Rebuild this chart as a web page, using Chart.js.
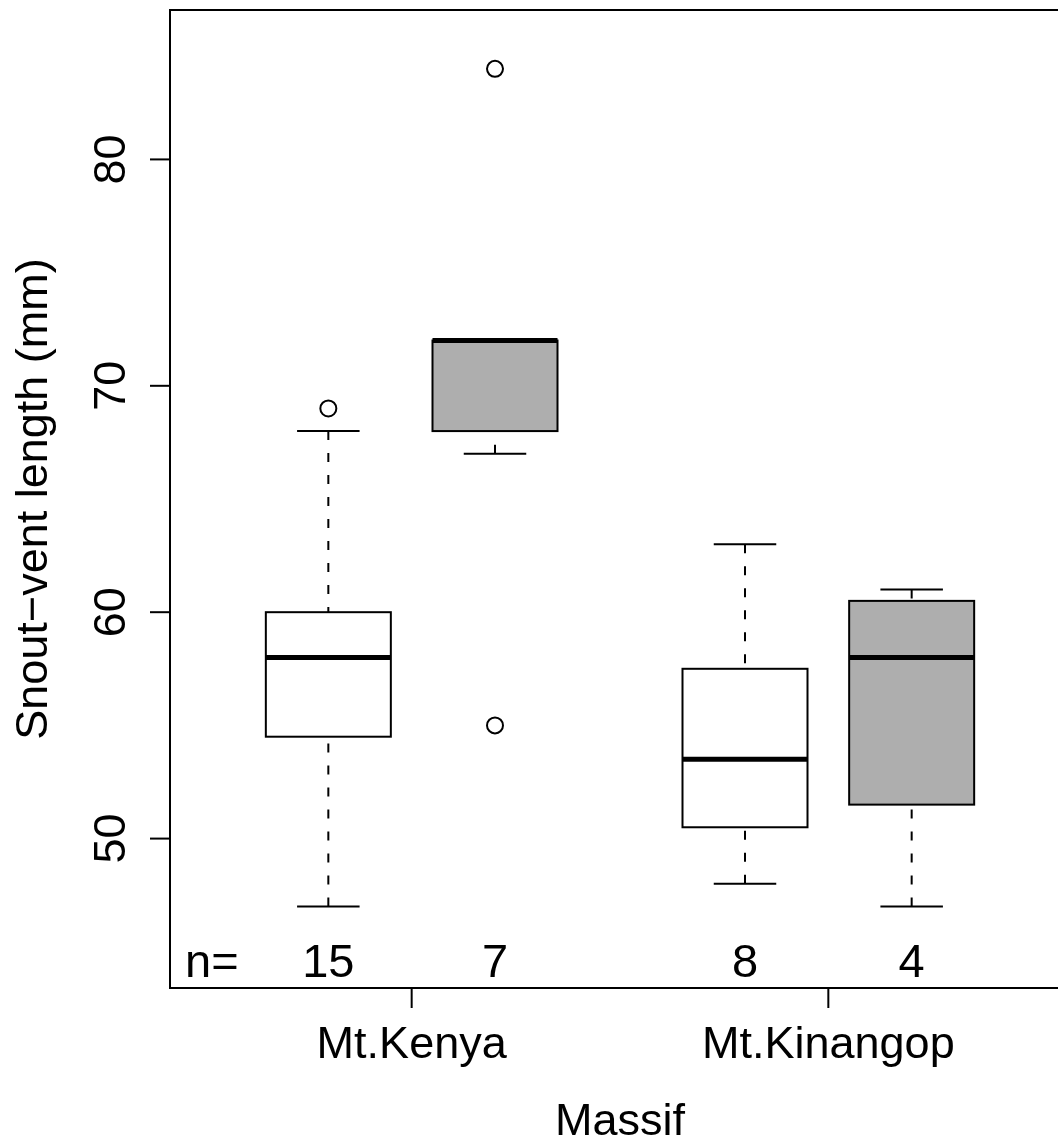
<!DOCTYPE html>
<html>
<head>
<meta charset="utf-8">
<script src="https://cdn.jsdelivr.net/npm/chart.js@4"></script>
<style>
html,body{margin:0;padding:0;background:#fff;overflow:hidden;width:1058px;height:1138px;}
canvas{display:block;}
</style>
</head>
<body>
<canvas id="c" width="1080" height="1138"></canvas>
<script>
// ---- data ----
const groupLabels = ["Mt.Kenya", "Mt.Kinangop"];
const groupTickPositions = [1.5, 4.0];
const boxPositions = [1, 2, 3.5, 4.5];
const lowerWhisker = [47, 67, 48, 47];
const q1Values = [54.5, 68, 50.5, 51.5];
const medianValues = [58, 72, 53.5, 58];
const q3Values = [60, 72, 57.5, 60.5];
const upperWhisker = [68, 72, 63, 61];
const outlierValues = [[69], [84, 55], [], []];
const sampleCounts = [15, 7, 8, 4];
const yTicks = [50, 60, 70, 80];
const yTitle = "Snout\u2212vent length (mm)";
const xTitle = "Massif";

const boxFills = ["#ffffff", "#aeaeae", "#ffffff", "#aeaeae"];
const FONT = '"Liberation Sans", Arial, sans-serif';

const outlierPoints = [];
outlierValues.forEach((arr, i) => arr.forEach(v => outlierPoints.push({x: boxPositions[i], y: v})));

const boxPlugin = {
  id: 'boxPlugin',
  beforeDatasetsDraw(chart) {
    const ctx = chart.ctx, xs = chart.scales.x, ys = chart.scales.y;
    const halfW = 0.375, capHalf = 0.1875;
    ctx.save();
    ctx.strokeStyle = '#000';
    boxPositions.forEach((p, i) => {
      const xc = xs.getPixelForValue(p);
      const xl = xs.getPixelForValue(p - halfW), xr = xs.getPixelForValue(p + halfW);
      const cl = xs.getPixelForValue(p - capHalf), cr = xs.getPixelForValue(p + capHalf);
      const yLo = ys.getPixelForValue(lowerWhisker[i]), yHi = ys.getPixelForValue(upperWhisker[i]);
      const yQ1 = ys.getPixelForValue(q1Values[i]), yQ3 = ys.getPixelForValue(q3Values[i]);
      const yMed = ys.getPixelForValue(medianValues[i]);
      // whiskers (dashed)
      ctx.lineWidth = 2;
      ctx.setLineDash([9, 13]);
      ctx.beginPath();
      ctx.moveTo(xc, yLo); ctx.lineTo(xc, yQ1);
      ctx.moveTo(xc, yHi); ctx.lineTo(xc, yQ3);
      ctx.stroke();
      ctx.setLineDash([]);
      // staples
      ctx.beginPath();
      ctx.moveTo(cl, yLo); ctx.lineTo(cr, yLo);
      ctx.moveTo(cl, yHi); ctx.lineTo(cr, yHi);
      ctx.stroke();
      // box
      ctx.fillStyle = boxFills[i];
      ctx.fillRect(xl, yQ3, xr - xl, yQ1 - yQ3);
      ctx.lineWidth = 2;
      ctx.strokeRect(xl, yQ3, xr - xl, yQ1 - yQ3);
      // median
      ctx.lineWidth = 5;
      ctx.beginPath();
      ctx.moveTo(xl, yMed); ctx.lineTo(xr, yMed);
      ctx.stroke();
    });
    ctx.restore();
  },
  afterDraw(chart) {
    const ctx = chart.ctx, xs = chart.scales.x, ys = chart.scales.y, a = chart.chartArea;
    ctx.save();
    ctx.strokeStyle = '#000';
    ctx.fillStyle = '#000';
    ctx.lineWidth = 2;
    ctx.strokeRect(a.left, a.top, a.right - a.left, a.bottom - a.top);
    // y ticks
    ctx.font = '45px ' + FONT;
    ctx.textAlign = 'center';
    ctx.textBaseline = 'alphabetic';
    yTicks.forEach(t => {
      const y = ys.getPixelForValue(t);
      ctx.beginPath(); ctx.moveTo(a.left - 20, y); ctx.lineTo(a.left, y); ctx.stroke();
      ctx.save(); ctx.translate(125, y); ctx.rotate(-Math.PI / 2);
      ctx.fillText(String(t), 0, 0); ctx.restore();
    });
    // x ticks
    groupTickPositions.forEach((p, i) => {
      const x = xs.getPixelForValue(p);
      ctx.beginPath(); ctx.moveTo(x, a.bottom); ctx.lineTo(x, a.bottom + 20); ctx.stroke();
      ctx.fillText(groupLabels[i], x, 1058);
    });
    // axis titles
    ctx.fillText(xTitle, (a.left + a.right) / 2, 1135);
    ctx.save(); ctx.translate(47, (a.top + a.bottom) / 2); ctx.rotate(-Math.PI / 2);
    ctx.fillText(yTitle, 0, 0); ctx.restore();
    // counts
    ctx.font = '47px ' + FONT;
    ctx.textAlign = 'left';
    ctx.fillText('n=', 185, 977);
    ctx.textAlign = 'center';
    boxPositions.forEach((p, i) => {
      ctx.fillText(String(sampleCounts[i]), xs.getPixelForValue(p), 977);
    });
    ctx.restore();
  }
};

new Chart(document.getElementById('c'), {
  type: 'scatter',
  data: {
    datasets: [{
      data: outlierPoints,
      pointStyle: 'circle',
      pointRadius: 8,
      pointBorderWidth: 2,
      pointBackgroundColor: '#ffffff',
      pointBorderColor: '#000000'
    }]
  },
  options: {
    responsive: false,
    animation: false,
    devicePixelRatio: 1,
    layout: { padding: { left: 170, top: 10, right: 9, bottom: 150 } },
    plugins: { legend: { display: false }, tooltip: { enabled: false } },
    scales: {
      x: { type: 'linear', min: 0.05, max: 5.45, display: false },
      y: { type: 'linear', min: 43.4, max: 86.6, display: false }
    }
  },
  plugins: [boxPlugin]
});
</script>
</body>
</html>
